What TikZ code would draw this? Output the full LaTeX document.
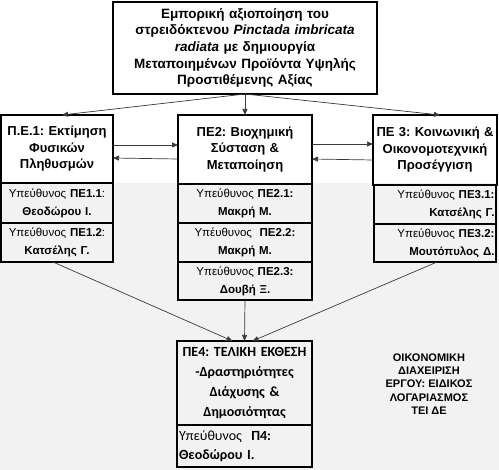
\documentclass[tikz,border=0pt]{standalone}
\usepackage{fontspec}
\setmainfont{Liberation Sans}
\newfontfamily\calibri{Carlito}
\usetikzlibrary{arrows.meta, positioning}
\definecolor{bgpanel}{HTML}{F2F2F2}
\definecolor{linkgray}{HTML}{3A3A3A}
\tikzset{
  wpbox/.style={draw, line width=1.5pt, outer sep=0pt, inner sep=1pt, align=center,
                font=\bfseries\fontsize{13}{16.5}\selectfont},
  leadbox/.style={draw, line width=1.5pt, outer sep=0pt, inner sep=1pt, align=center,
                  fill=bgpanel, font=\fontsize{11.5}{18}\selectfont},
  link/.style={draw=linkgray, line width=0.7pt, -{Triangle[length=6pt,width=5pt]}}
}
\newcommand{\leadtext}[2]{#1\\{\bfseries\fontsize{11.5}{18}\selectfont #2}}
\frenchspacing

\begin{document}
\begin{tikzpicture}[x=1pt, y=-1pt]
    \useasboundingbox (0,0) rectangle (499,470);
    \fill[white] (0,0) rectangle (499,183);
    \fill[bgpanel] (0,183) rectangle (499,470);

    \node[wpbox, text width=262pt, minimum height=92pt,
          font=\bfseries\fontsize{13.5}{16.7}\selectfont] (goal) at (245,48) {
      Εμπορική αξιοποίηση του\\
      στρειδόκτενου \textit{Pinctada imbricata}\\
      \textit{radiata} με δημιουργία\\
      Μεταποιημένων Προϊόντα Υψηλής\\
      Προστιθέμενης Αξίας
    };

    \node[wpbox, text width=110pt, minimum height=68pt] (pe1) at (57,149) {
      Π.Ε.1: Εκτίμηση\\ Φυσικών\\ Πληθυσμών
    };
    \node[leadbox, text width=110pt, minimum height=40pt, below=0pt of pe1] (pe11)
      {\leadtext{Υπεύθυνος \textbf{ΠΕ1.1}:}{Θεοδώρου Ι.}};
    \node[leadbox, text width=110pt, minimum height=39pt, below=0pt of pe11] (pe12)
      {\leadtext{Υπεύθυνος \textbf{ΠΕ1.2}:}{Κατσέλης Γ.}};

    \node[wpbox, text width=132pt, minimum height=69pt] (pe2) at (245,149.5) {
      ΠΕ2: Βιοχημική\\ Σύσταση \&\\ Μεταποίηση
    };
    \node[leadbox, text width=132pt, minimum height=39pt, below=0pt of pe2] (pe21)
      {\leadtext{Υπεύθυνος \textbf{ΠΕ2.1:}}{Μακρή Μ.}};
    \node[leadbox, text width=132pt, minimum height=39pt, below=0pt of pe21] (pe22)
      {\leadtext{Υπέυθυνος \ \textbf{ΠΕ2.2:}}{Μακρή Μ.}};
    \node[leadbox, text width=132pt, minimum height=38pt, below=0pt of pe22] (pe23)
      {\leadtext{Υπεύθυνος \textbf{ΠΕ2.3:}}{Δουβή Ξ.}};

    \node[wpbox, text width=122pt, minimum height=70pt] (pe3) at (435,150) {
      ΠΕ 3: Κοινωνική \&\\ Οικονομοτεχνική\\ Προσέγγιση
    };
    \node[leadbox, align=right, text width=119pt, inner sep=1.5pt, minimum height=39pt,
          below=0pt of pe3] (pe31)
      {\leadtext{Υπεύθυνος \textbf{ΠΕ3.1:}}{Κατσέλης Γ.}};
    \node[leadbox, align=right, text width=119pt, inner sep=1.5pt, minimum height=38pt,
          below=0pt of pe31] (pe32)
      {\leadtext{Υπεύθυνος \textbf{ΠΕ3.2:}}{Μουτόπυλος Δ.}};

    \node[wpbox, text width=133pt, minimum height=84pt, fill=bgpanel,
          font=\calibri\bfseries\fontsize{14}{19.7}\selectfont] (pe4) at (244.5,383) {
      ΠΕ4: ΤΕΛΙΚΗ ΈΚΘΕΣΗ\\ -Δραστηριότητες\\ Διάχυσης \&\\ Δημοσιότητας
    };
    \node[leadbox, align=left, text width=131pt, inner sep=2pt, minimum height=42pt,
          font=\calibri\fontsize{14}{19}\selectfont, below=0pt of pe4] (pe41)
      {Υπεύθυνος \ \textbf{Π4:}\\\textbf{Θεοδώρου Ι.}};

    \node[align=center, font=\bfseries\fontsize{11}{13.3}\selectfont] (budget) at (429,384) {
      ΟΙΚΟΝΟΜΙΚΗ\\ ΔΙΑΧΕΙΡΙΣΗ\\ ΕΡΓΟΥ: ΕΙΔΙΚΟΣ\\ ΛΟΓΑΡΙΑΣΜΟΣ\\ ΤΕΙ ΔΕ
    };

    \draw[link] (goal.south) -- (pe2.north);
    \draw[link] (goal.south) -- ([xshift=5pt]pe1.north);
    \draw[link] (goal.south) -- ([xshift=5pt]pe3.north);

    \draw[link] ([yshift=4pt]pe1.east) -- ([yshift=4.5pt]pe2.west);
    \draw[link] ([yshift=-9.5pt]pe2.west) -- ([yshift=-9pt]pe1.east);
    \draw[link] ([yshift=5.5pt]pe2.east) -- ([yshift=6pt]pe3.east -| pe3.west);
    \draw[link] ([yshift=-10pt]pe3.west) -- ([yshift=-9.5pt]pe2.east);

    \draw[link] ([xshift=-4pt]pe12.south) -- ([xshift=-12pt]pe4.north);
    \draw[link] (pe23.south) -- (pe4.north);
    \draw[link] ([xshift=2pt]pe32.south) -- ([xshift=8pt]pe4.north);
  \end{tikzpicture}
\end{document}
